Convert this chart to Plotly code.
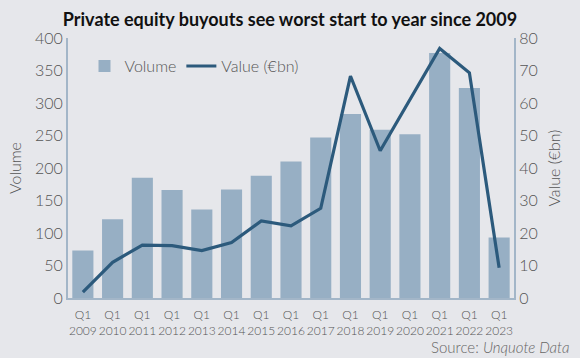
import plotly.graph_objects as go

quarters = ["Q1<br>2009", "Q1<br>2010", "Q1<br>2011", "Q1<br>2012", "Q1<br>2013",
            "Q1<br>2014", "Q1<br>2015", "Q1<br>2016", "Q1<br>2017", "Q1<br>2018",
            "Q1<br>2019", "Q1<br>2020", "Q1<br>2021", "Q1<br>2022", "Q1<br>2023"]
volume = [73, 121, 185, 166, 136, 167, 188, 210, 247, 283, 259, 252, 377, 323, 93]
value_bn = [1.8, 11, 16.3, 16.1, 14.6, 17.1, 23.7, 22.2, 27.6, 68.3, 45.3, 61, 76.8, 69.3, 9.3]

BG = "#e6e7eb"
AXIS = "#a3b6c8"
TXT = "#555555"
FONT = "Lato"

fig = go.Figure()
fig.add_trace(go.Bar(x=quarters, y=volume, name="Volume", marker_color="#97afc4",
                     marker_line_width=0))
fig.add_trace(go.Scatter(x=quarters, y=value_bn, name="Value (€bn)", yaxis="y2",
                         mode="lines", line=dict(color="#2c5a7c", width=3.2)))

fig.update_layout(
    width=580, height=358,
    paper_bgcolor=BG, plot_bgcolor=BG,
    margin=dict(l=68, r=66, t=38, b=60, autoexpand=False),
    font=dict(family=FONT, color=TXT, size=16, weight=300),
    title=dict(text="<b>Private equity buyouts see worst start to year since 2009</b>",
               x=0.5, xanchor="center", y=0.945, yanchor="middle",
               font=dict(family=FONT, size=18, color="#111111", weight=700)),
    bargap=0.29,
    showlegend=True,
    legend=dict(orientation="h", x=0.037, y=0.892, xanchor="left", yanchor="middle",
                bgcolor="rgba(0,0,0,0)", font=dict(size=16, color=TXT, weight=300),
                itemwidth=30),
    xaxis=dict(showgrid=False, showline=True, linecolor=AXIS, linewidth=2,
               tickfont=dict(size=12, color=TXT, weight=300), ticks="", tickangle=0,
               ticklabelstandoff=5, automargin=False),
    yaxis=dict(range=[0, 400], dtick=50, showgrid=False, showline=True,
               linecolor=AXIS, linewidth=2, zeroline=False, automargin=False,
               tickfont=dict(size=16, color=TXT, weight=300),
               title=dict(text="Volume", font=dict(size=16, color=TXT, weight=300), standoff=9)),
    yaxis2=dict(range=[0, 80], dtick=10, overlaying="y", side="right",
                showgrid=False, showline=True, linecolor=AXIS, linewidth=2,
                zeroline=False, automargin=False, tickfont=dict(size=16, color=TXT, weight=300),
                title=dict(text="Value (€bn)", font=dict(size=16, color=TXT, weight=300), standoff=12)),
)

fig.add_annotation(text="Source: <i>Unquote Data</i>", xref="paper", yref="paper",
                   x=1.13, y=-0.187, xanchor="right", yanchor="middle", showarrow=False,
                   font=dict(family=FONT, size=15, color="#666666", weight=300))

fig.write_html("out.html", config={"displayModeBar": False},
               post_script="document.body.style.margin='0';")
